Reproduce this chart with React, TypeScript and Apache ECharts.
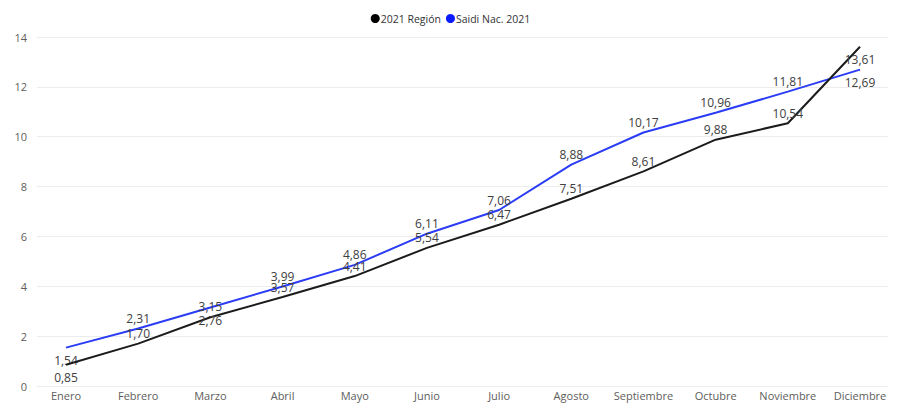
import React, { useEffect, useRef } from "react";
import * as echarts from "echarts";

const months = ["Enero", "Febrero", "Marzo", "Abril", "Mayo", "Junio", "Julio", "Agosto", "Septiembre", "Octubre", "Noviembre", "Diciembre"];
const region2021 = [0.85, 1.7, 2.76, 3.57, 4.41, 5.54, 6.47, 7.51, 8.61, 9.88, 10.54, 13.61];
const nacional2021 = [1.54, 2.31, 3.15, 3.99, 4.86, 6.11, 7.06, 8.88, 10.17, 10.96, 11.81, 12.69];
// label placement per point (top / bottom / center)
const regionLabelPos = ["bottom", "top", "center", "top", "top", "top", "top", "top", "top", "top", "top", "bottom"];
const nacionalLabelPos = ["bottom", "top", "center", "top", "top", "top", "top", "top", "top", "top", "top", "bottom"];
const yTicks = { min: 0, max: 14, interval: 2 };

const FONT = "'Segoe UI', 'Open Sans', 'Noto Sans', sans-serif";
const fmt = (v: number) => v.toFixed(2).replace(".", ",");

function buildData(values: number[], pos: string[], centerOffset: number) {
  return values.map((v, i) => {
    const p = pos[i];
    let label: any;
    if (p === "center") label = { position: "inside", offset: [0, centerOffset] };
    else if (p === "bottom") label = { position: "bottom", distance: 7 };
    else label = { position: "top", distance: 4 };
    return { value: v, label };
  });
}

export default function App() {
  const ref = useRef<HTMLDivElement>(null);
  useEffect(() => {
    document.body.style.margin = "0";
    const chart = echarts.init(ref.current!, null, { renderer: "svg" });
    const labelStyle = {
      show: true,
      color: "#404040",
      fontSize: 12,
      fontFamily: FONT,
      formatter: (p: any) => fmt(p.value),
    };
    chart.setOption({
      animation: false,
      textStyle: { fontFamily: FONT },
      legend: {
        top: 8,
        left: "center",
        icon: "circle",
        itemWidth: 9,
        itemHeight: 9,
        itemGap: 5,
        textStyle: { fontSize: 10.5, color: "#333", padding: [0, 0, 0, -4] },
        data: ["2021 Región", "Saidi Nac. 2021"],
      },
      grid: [
        { left: 37, right: 13, top: 37, bottom: 17 },
        { left: 66, right: 41, top: 37, bottom: 17 },
      ],
      xAxis: [
        { type: "value", gridIndex: 0, show: false, min: 0, max: 1 },
        {
          type: "category",
          gridIndex: 1,
          data: months,
          boundaryGap: false,
          axisLine: { show: false },
          axisTick: { show: false },
          axisLabel: { color: "#605e5c", fontSize: 11, margin: 3, interval: 0, lineHeight: 13 },
        },
      ],
      yAxis: [
        {
          type: "value",
          gridIndex: 0,
          ...yTicks,
          axisLine: { show: false },
          axisTick: { show: false },
          axisLabel: { color: "#605e5c", fontSize: 11, margin: 10 },
          splitLine: { lineStyle: { color: "#ececec", width: 1 } },
        },
        {
          type: "value",
          gridIndex: 1,
          ...yTicks,
          show: false,
          splitLine: { show: false },
        },
      ],
      series: [
        {
          name: "2021 Región",
          type: "line",
          xAxisIndex: 1,
          yAxisIndex: 1,
          data: buildData(region2021, regionLabelPos, 3),
          symbol: "circle",
          symbolSize: 0,
          showSymbol: true,
          lineStyle: { color: "#1b1b1b", width: 2 },
          itemStyle: { color: "#000000" },
          label: labelStyle,
          z: 3,
        },
        {
          name: "Saidi Nac. 2021",
          type: "line",
          xAxisIndex: 1,
          yAxisIndex: 1,
          data: buildData(nacional2021, nacionalLabelPos, -1),
          symbol: "circle",
          symbolSize: 0,
          showSymbol: true,
          lineStyle: { color: "#2b3cf5", width: 2 },
          itemStyle: { color: "#0a1cff" },
          label: labelStyle,
          z: 2,
        },
      ],
    });
    return () => chart.dispose();
  }, []);
  return <div ref={ref} style={{ width: 901, height: 403 }} />;
}
